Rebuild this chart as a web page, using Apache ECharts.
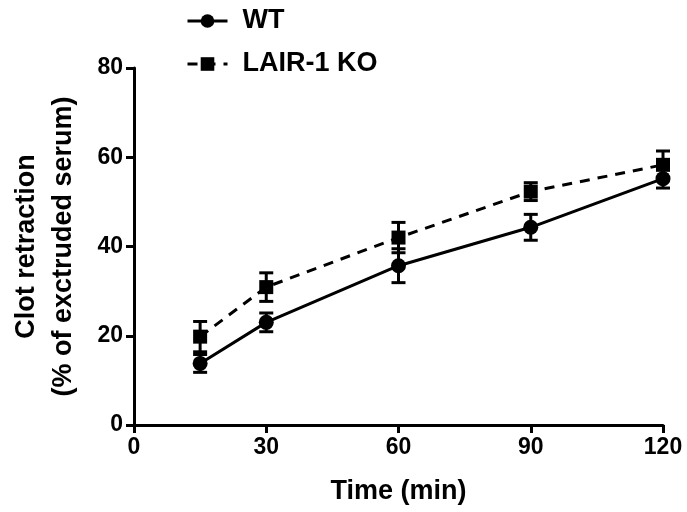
<!DOCTYPE html>
<html>
<head>
<meta charset="utf-8">
<script src="https://cdn.jsdelivr.net/npm/echarts@6/dist/echarts.min.js"></script>
<style>
  html, body { margin: 0; padding: 0; background: #fff; }
  #main { width: 687px; height: 512px; }
</style>
</head>
<body>
<div id="main"></div>
<script>
// time points (min)
var times = [15, 30, 60, 90, 120];
// clot retraction, mean and SEM
var wtMean = [13.8, 23.0, 35.7, 44.3, 55.2];
var wtErr = [2.0, 2.1, 3.8, 2.9, 2.1];
var koMean = [19.8, 30.9, 42.0, 52.3, 58.3];
var koErr = [3.4, 3.2, 3.4, 2.0, 3.1];
var xTicks = [0, 30, 60, 90, 120];
var yTicks = [0, 20, 40, 60, 80];

var FONT = 'Liberation Sans, Arial, sans-serif';

function pairs(xs, ys) {
  return xs.map(function (x, i) { return [x, ys[i]]; });
}
function errData(xs, m, e) {
  return xs.map(function (x, i) { return [x, m[i] - e[i], m[i] + e[i]]; });
}

// vertical bar with caps
function renderErr(params, api) {
  var x = api.value(0);
  var lo = api.coord([x, api.value(1)]);
  var hi = api.coord([x, api.value(2)]);
  var w = 7;
  var st = { stroke: '#000', lineWidth: 3 };
  return {
    type: 'group',
    children: [
      { type: 'line', shape: { x1: lo[0], y1: lo[1], x2: hi[0], y2: hi[1] }, style: st },
      { type: 'line', shape: { x1: lo[0] - w, y1: lo[1], x2: lo[0] + w, y2: lo[1] }, style: st },
      { type: 'line', shape: { x1: hi[0] - w, y1: hi[1], x2: hi[0] + w, y2: hi[1] }, style: st }
    ]
  };
}

var myChart = echarts.init(document.getElementById('main'));
myChart.setOption({
  animation: false,
  backgroundColor: '#fff',
  legend: {
    data: ['WT', 'LAIR-1 KO'],
    orient: 'vertical',
    left: 181,
    top: 1,
    itemWidth: 40,
    itemHeight: 17,
    itemGap: 13,
    lineStyle: { width: 3 },
    textStyle: { fontFamily: FONT, fontWeight: 'bold', fontSize: 27, color: '#000', lineHeight: 30, padding: [0, 0, 0, 10] }
  },
  grid: { left: 129, right: 24, top: 68, bottom: 87 },
  xAxis: {
    type: 'value',
    min: 0,
    max: 120,
    interval: 30,
    name: 'Time (min)',
    nameLocation: 'middle',
    nameGap: 53,
    nameTextStyle: { fontFamily: FONT, fontWeight: 'bold', fontSize: 27, color: '#000' },
    axisLine: { lineStyle: { color: '#000', width: 3 } },
    axisTick: { length: 8, lineStyle: { color: '#000', width: 3 } },
    axisLabel: {
      margin: 11,
      fontFamily: FONT, fontWeight: 'bold', fontSize: 23, color: '#000',
      formatter: function (v) { return xTicks.indexOf(v) >= 0 ? String(v) : ''; }
    },
    splitLine: { show: false }
  },
  yAxis: {
    type: 'value',
    min: 0,
    max: 80,
    interval: 20,
    name: 'Clot retraction\n(% of exctruded serum)',
    nameLocation: 'middle',
    nameRotate: 90,
    nameGap: 52,
    nameTextStyle: { fontFamily: FONT, fontWeight: 'bold', fontSize: 27, color: '#000', lineHeight: 37 },
    axisLine: { lineStyle: { color: '#000', width: 3 } },
    axisTick: { length: 8, lineStyle: { color: '#000', width: 3 } },
    axisLabel: {
      margin: 11,
      fontFamily: FONT, fontWeight: 'bold', fontSize: 23, color: '#000',
      formatter: function (v) { return yTicks.indexOf(v) >= 0 ? String(v) : ''; }
    },
    splitLine: { show: false }
  },
  series: [
    {
      name: 'WT err',
      type: 'custom',
      renderItem: renderErr,
      data: errData(times, wtMean, wtErr),
      z: 3
    },
    {
      name: 'LAIR-1 KO err',
      type: 'custom',
      renderItem: renderErr,
      data: errData(times, koMean, koErr),
      z: 3
    },
    {
      name: 'WT',
      type: 'line',
      data: pairs(times, wtMean),
      symbol: 'circle',
      symbolSize: 15,
      itemStyle: { color: '#000' },
      lineStyle: { color: '#000', width: 3 },
      z: 4
    },
    {
      name: 'LAIR-1 KO',
      type: 'line',
      data: pairs(times, koMean),
      symbol: 'rect',
      symbolSize: 14,
      itemStyle: { color: '#000' },
      lineStyle: { color: '#000', width: 3, type: [10, 8] },
      z: 4
    }
  ]
});
</script>
</body>
</html>
